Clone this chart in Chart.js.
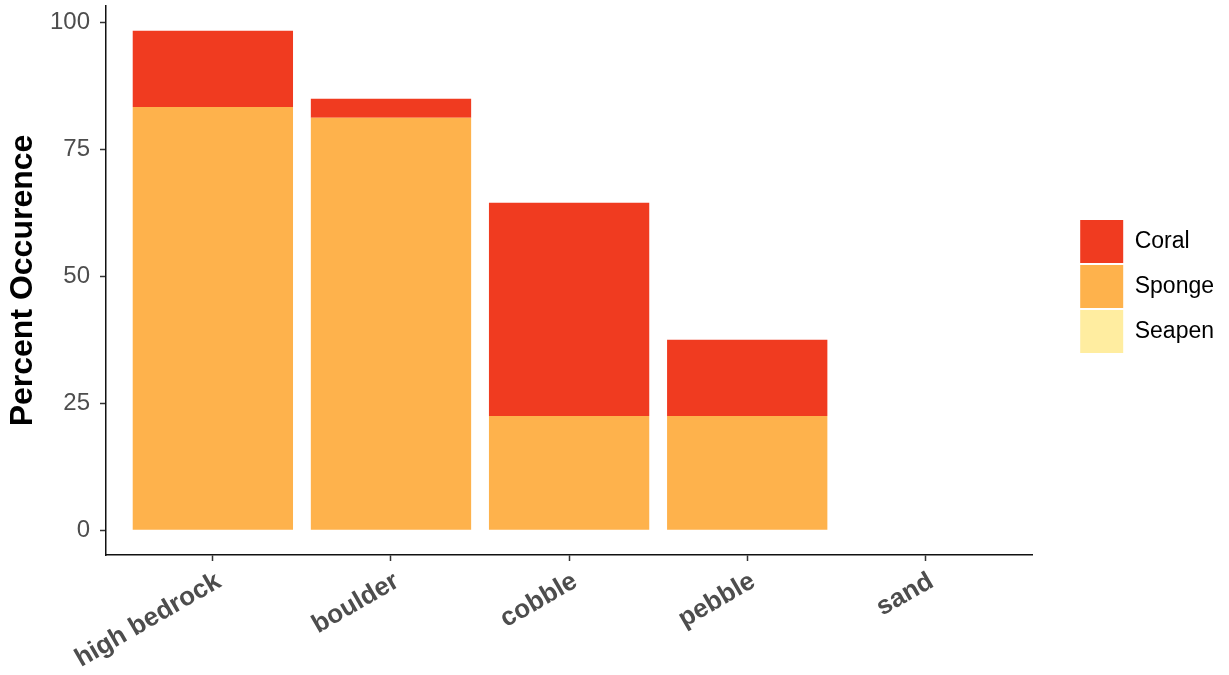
<!DOCTYPE html>
<html>
<head>
<meta charset="utf-8">
<script src="https://cdn.jsdelivr.net/npm/chart.js@4"></script>
<style>
  html, body { margin: 0; padding: 0; background: #fff; }
  #wrap { width: 1229px; height: 675px; }
</style>
</head>
<body>
<div id="wrap"><canvas id="occurrenceChart"></canvas></div>
<script>
const substrates = ['high bedrock', 'boulder', 'cobble', 'pebble', 'sand'];
const seapen = [0, 0, 0, 0, 0];
const sponge = [83.4, 81.3, 22.5, 22.5, 0];
const coral = [15.0, 3.7, 42.0, 15.0, 0];
const yTicks = [0, 25, 50, 75, 100];

const toPoints = (arr) => arr.map((v, i) => ({ x: i, y: v }));

// layout padding from edge labels would push the plot in; keep it flush
const noEdgePadding = (scale) => {
    scale.paddingTop = 0;
    scale.paddingBottom = 0;
    scale.paddingLeft = 0;
    scale.paddingRight = 0;
};

document.addEventListener('DOMContentLoaded', () => {
    Chart.defaults.font.family = "'Liberation Sans', Arial, sans-serif";
    const ctx = document.getElementById('occurrenceChart').getContext('2d');
    new Chart(ctx, {
        type: 'bar',
        data: {
            datasets: [
                { label: 'Seapen', data: toPoints(seapen), backgroundColor: '#FFEDA0' },
                { label: 'Sponge', data: toPoints(sponge), backgroundColor: '#FEB24C' },
                { label: 'Coral', data: toPoints(coral), backgroundColor: '#F03B20' }
            ]
        },
        options: {
            responsive: true,
            maintainAspectRatio: false,
            animation: false,
            barPercentage: 0.9,
            categoryPercentage: 1,
            borderWidth: 0,
            layout: { padding: { top: 6, right: 5, bottom: 0, left: 0 } },
            plugins: {
                tooltip: { enabled: false },
                legend: {
                    position: 'right',
                    fullSize: false,
                    reverse: true,
                    // empty title only nudges the centred keys down a little
                    title: { display: true, text: '', padding: 0, font: { size: 10 } },
                    labels: {
                        boxWidth: 43,
                        boxHeight: 43,
                        padding: 2,
                        color: '#000',
                        font: { size: 23 }
                    }
                }
            },
            scales: {
                x: {
                    type: 'linear',
                    stacked: true,
                    offset: false,
                    min: -0.6,
                    max: 4.6,
                    afterBuildTicks: (scale) => {
                        scale.ticks = substrates.map((s, i) => ({ value: i }));
                    },
                    afterFit: (scale) => { scale.height = 120; noEdgePadding(scale); },
                    ticks: {
                        autoSkip: false,
                        minRotation: 30,
                        maxRotation: 30,
                        padding: 5,
                        labelOffset: 6,
                        color: '#4D4D4D',
                        font: { size: 26, weight: 'bold' },
                        callback: (value) => substrates[value]
                    },
                    grid: { offset: false, drawOnChartArea: false, drawTicks: true, tickLength: 6, tickColor: '#333', tickWidth: 1.5 },
                    border: { display: true, color: '#111', width: 1.5 }
                },
                y: {
                    stacked: true,
                    min: -4.9,
                    max: 103.3,
                    afterBuildTicks: (scale) => {
                        scale.ticks = yTicks.map(v => ({ value: v }));
                    },
                    afterFit: (scale) => { scale.width = 106; noEdgePadding(scale); },
                    ticks: {
                        padding: 10,
                        color: '#4D4D4D',
                        font: { size: 24 }
                    },
                    grid: { drawOnChartArea: false, drawTicks: true, tickLength: 6, tickColor: '#333', tickWidth: 1.5 },
                    border: { display: true, color: '#111', width: 1.5 },
                    title: {
                        display: true,
                        text: 'Percent Occurence',
                        color: '#000',
                        font: { size: 32, weight: 'bold' },
                        padding: { top: 4, bottom: 0 }
                    }
                },
                // empty right-hand axis, only keeps the gap between plot and legend
                gap: {
                    position: 'right',
                    display: true,
                    ticks: { display: false },
                    grid: { display: false, drawTicks: false },
                    border: { display: false },
                    afterFit: (scale) => { scale.width = 46; noEdgePadding(scale); }
                }
            }
        }
    });
});
</script>
</body>
</html>
